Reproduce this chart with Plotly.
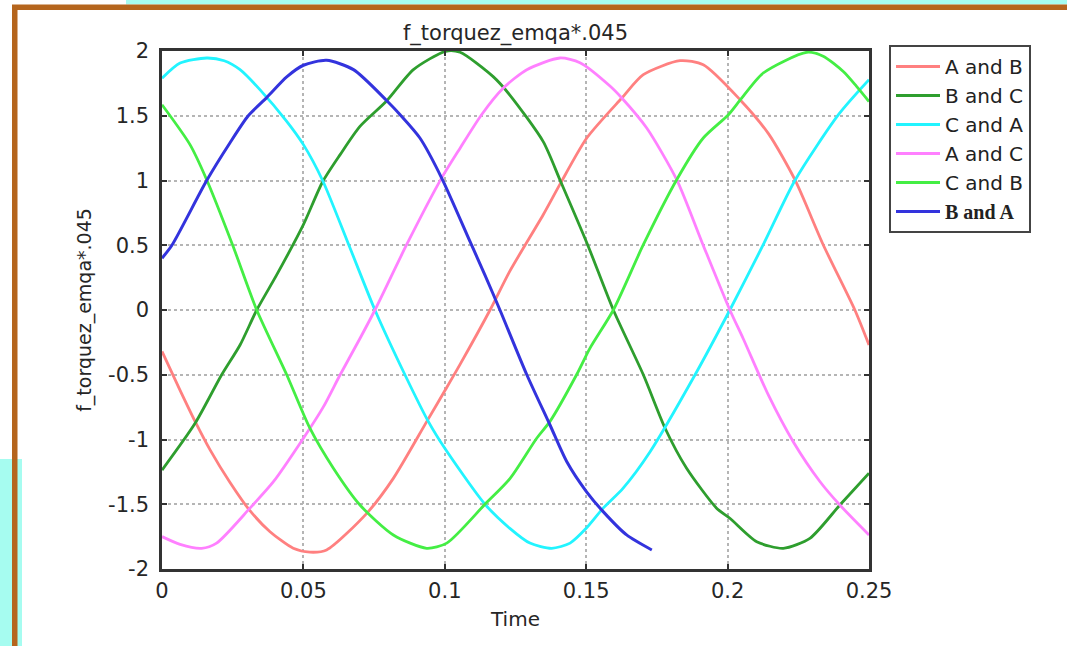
import plotly.graph_objects as go

# ---------------- data ----------------
series_names = ["A and B", "B and C", "C and A", "A and C", "C and B", "B and A"]

t_ab = [0, 0.0064, 0.0117, 0.017, 0.024, 0.0311, 0.0382, 0.0464, 0.0523, 0.0582, 0.0724, 0.0818,
        0.0936, 0.1001, 0.1054, 0.116, 0.123, 0.1348, 0.1407, 0.1502, 0.1626, 0.1702, 0.1832,
        0.1914, 0.2044, 0.2145, 0.2238, 0.2338, 0.2450, 0.25]
v_ab = [-0.32, -0.62, -0.86, -1.08, -1.33, -1.55, -1.712, -1.84, -1.87, -1.853, -1.57, -1.30,
        -0.862, -0.62, -0.42, 0.0, 0.30, 0.736, 0.97, 1.328, 1.637, 1.817, 1.925,
        1.894, 1.624, 1.36, 1.006, 0.504, 0.0, -0.27]

t_bc = [0, 0.0117, 0.0211, 0.0276, 0.0335, 0.0406, 0.05, 0.0568, 0.063, 0.07, 0.0795, 0.0889,
        0.1003, 0.1054, 0.1172, 0.123, 0.1348, 0.1407, 0.1505, 0.1596, 0.1702, 0.1779, 0.1855,
        0.1961, 0.2008, 0.2103, 0.2197, 0.2291, 0.2397, 0.25]
v_bc = [-1.236, -0.875, -0.5, -0.27, 0.0, 0.273, 0.659, 0.99, 1.2, 1.418, 1.616, 1.856,
        1.998, 1.99, 1.80, 1.66, 1.30, 1.006, 0.504, 0.0, -0.5, -0.913, -1.222,
        -1.53, -1.608, -1.789, -1.84, -1.763, -1.506, -1.26]

t_ca = [0, 0.0064, 0.0158, 0.022, 0.0276, 0.0347, 0.0441, 0.05, 0.0568, 0.0661, 0.0753,
        0.0859, 0.0942, 0.1, 0.1142, 0.123, 0.1301, 0.1378, 0.1443, 0.150, 0.156, 0.163, 0.1726,
        0.1885, 0.2008, 0.2126, 0.2238, 0.2392, 0.25]
v_ca = [1.79, 1.907, 1.946, 1.925, 1.856, 1.70, 1.457, 1.277, 1.0, 0.5, 0.0,
        -0.5, -0.862, -1.068, -1.5, -1.686, -1.80, -1.84, -1.80, -1.686, -1.53, -1.377, -1.094,
        -0.5, 0.0, 0.504, 1.0, 1.508, 1.778]

t_ac = [0, 0.0064, 0.014, 0.0193, 0.0311, 0.0394, 0.05, 0.057, 0.063, 0.07, 0.0753, 0.0865,
        0.0989, 0.1054, 0.113, 0.1207, 0.129, 0.1407, 0.1478, 0.1584, 0.1626, 0.1714, 0.182,
        0.191, 0.2008, 0.2055, 0.2144, 0.2232, 0.2327, 0.2397, 0.25]
v_ac = [-1.75, -1.81, -1.84, -1.80, -1.53, -1.326, -0.99, -0.75, -0.5, -0.22, 0.0, 0.504,
        1.02, 1.25, 1.508, 1.714, 1.856, 1.946, 1.91, 1.73, 1.637, 1.405, 1.006,
        0.52, 0.0, -0.22, -0.656, -1.017, -1.326, -1.506, -1.737]

t_cb = [0, 0.0099, 0.0158, 0.025, 0.0335, 0.0441, 0.0523, 0.0606, 0.07, 0.0818, 0.0936,
        0.1007, 0.1142, 0.1231, 0.1325, 0.1372, 0.1466, 0.1513, 0.1596, 0.1702, 0.182, 0.1914,
        0.2003, 0.2044, 0.2126, 0.228, 0.2338, 0.241, 0.2456, 0.25]
v_cb = [1.585, 1.277, 1.006, 0.5, 0.0, -0.5, -0.913, -1.222, -1.506, -1.737, -1.84,
        -1.80, -1.50, -1.30, -0.99, -0.86, -0.5, -0.296, 0.0, 0.504, 1.006, 1.328,
        1.508, 1.62, 1.83, 1.99, 1.96, 1.84, 1.727, 1.61]

t_ba = [0, 0.0035, 0.0158, 0.024, 0.0305, 0.037, 0.0441, 0.05, 0.0582, 0.0677, 0.0795, 0.0842,
        0.0912, 0.0989, 0.1089, 0.1142, 0.1195, 0.129, 0.1372, 0.1431, 0.150, 0.156, 0.1643, 0.1732]
v_ba = [0.40, 0.5, 1.0, 1.29, 1.5, 1.64, 1.80, 1.89, 1.928, 1.856, 1.616, 1.508,
        1.328, 1.019, 0.53, 0.27, 0.0, -0.5, -0.888, -1.17, -1.40, -1.557, -1.737, -1.853]

x_tick_vals = [0, 0.05, 0.1, 0.15, 0.2, 0.25]
x_tick_text = ["0", "0.05", "0.1", "0.15", "0.2", "0.25"]
y_tick_vals = [-2, -1.5, -1, -0.5, 0, 0.5, 1, 1.5, 2]
y_tick_text = ["-2", "-1.5", "-1", "-0.5", "0", "0.5", "1", "1.5", "2"]

title_text = "f_torquez_emqa*.045"
x_title = "Time"
y_title = "f_torquez_emqa*.045"

# ---------------- styling ----------------
W, H = 1067, 646
L, R, T, B = 162, 869, 51, 569

colors = ["#FF8080", "#2E9E2E", "#22F4FF", "#FF80FF", "#44EE44", "#3333DD"]
FONT = "DejaVu Sans"
TXT = "#262626"

def px(xp):
    return (xp - L) / (R - L)

def py(yp):
    return (B - yp) / (B - T)

fig = go.Figure()
data = [(t_ab, v_ab), (t_bc, v_bc), (t_ca, v_ca), (t_ac, v_ac), (t_cb, v_cb), (t_ba, v_ba)]
for i, (tt, vv) in enumerate(data):
    name = series_names[i]
    if i == 5:
        name = "<b><span style='font-family:Liberation Serif'>" + name + "</span></b>"
    fig.add_trace(go.Scatter(
        x=tt, y=vv, mode="lines", name=name,
        line=dict(color=colors[i], width=2.8 if i < 5 else 3.0, shape="spline", smoothing=0.7),
    ))

shapes = [
    dict(type="rect", xref="paper", yref="paper", x0=px(126), x1=px(W + 2), y0=py(-2), y1=py(4.5),
         fillcolor="#A6FCF0", line=dict(width=0), layer="above"),
    dict(type="rect", xref="paper", yref="paper", x0=px(-2), x1=px(22), y0=py(459), y1=py(H + 2),
         fillcolor="#A6FCF0", line=dict(width=0), layer="above"),
    dict(type="rect", xref="paper", yref="paper", x0=px(12), x1=px(W + 2), y0=py(10), y1=py(4.5),
         fillcolor="#B5651D", line=dict(width=0), layer="above"),
    dict(type="rect", xref="paper", yref="paper", x0=px(12), x1=px(17.5), y0=py(H + 2), y1=py(5),
         fillcolor="#B5651D", line=dict(width=0), layer="above"),
]

axis_common = dict(
    showline=True, linecolor="#333333", linewidth=2.5, mirror="ticks",
    ticks="inside", ticklen=5, tickwidth=2, tickcolor="#333333",
    showgrid=True, gridcolor="#b5b5b5", gridwidth=1.5, griddash="dot",
    zeroline=False,
    tickfont=dict(family=FONT, size=21, color=TXT),
)

fig.update_layout(
    width=W, height=H, autosize=False,
    margin=dict(l=L, r=W - R, t=T, b=H - B, pad=0),
    paper_bgcolor="white", plot_bgcolor="white",
    title=dict(text=title_text, x=0.5, xref="paper", xanchor="center",
               y=1 - 33 / H, yref="container", yanchor="middle",
               font=dict(family=FONT, size=21, color=TXT)),
    xaxis=dict(range=[0, 0.25], tickvals=x_tick_vals, ticktext=x_tick_text,
               title=dict(text=x_title, font=dict(family=FONT, size=20, color=TXT), standoff=11),
               ticklabelstandoff=1, **axis_common),
    yaxis=dict(range=[-2, 2], tickvals=y_tick_vals, ticktext=y_tick_text,
               title=dict(text=y_title, font=dict(family=FONT, size=19, color=TXT), standoff=12),
               ticklabelstandoff=6, **axis_common),
    legend=dict(x=px(889), y=py(45), xanchor="left", yanchor="top",
                bgcolor="white", bordercolor="#444444", borderwidth=2,
                font=dict(family=FONT, size=20, color="#222222"),
                tracegroupgap=0, itemwidth=44, entrywidth=100, entrywidthmode="pixels"),
    shapes=shapes,
    showlegend=True,
)

fig.write_html("out.html")
